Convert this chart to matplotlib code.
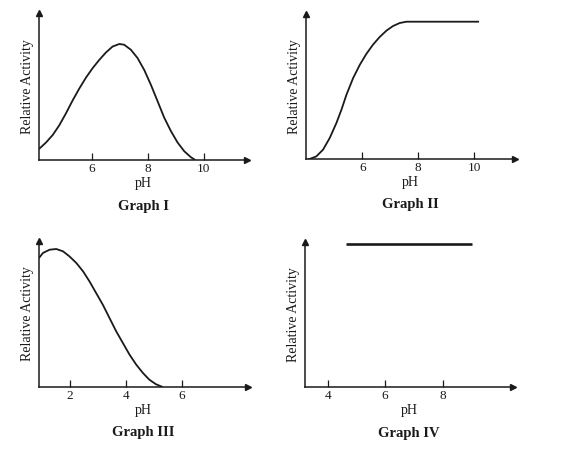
import matplotlib
matplotlib.use("Agg")
import matplotlib.pyplot as plt

plt.rcParams['font.family'] = ['Liberation Serif', 'DejaVu Serif']

W, H = 587, 463

# Graph I: activity vs pH
ph_1 = [4.11, 4.36, 4.60, 4.83, 5.07, 5.31, 5.55, 5.79, 6.03, 6.26, 6.50,
        6.74, 6.98, 7.15, 7.39, 7.63, 7.87, 8.11, 8.35, 8.58, 8.82, 9.06,
        9.30, 9.54, 9.69]
act_1 = [11, 17.5, 25, 34.5, 46.5, 59.5, 71.5, 82.5, 92, 100, 107.5,
         113.5, 116, 115.3, 110.3, 102, 90, 75, 58.5, 42.5, 29, 17.5,
         8.7, 2.7, 0]

# Graph II
ph_2 = [4.05, 4.11, 4.35, 4.59, 4.83, 5.07, 5.25, 5.43, 5.67, 5.91, 6.14,
        6.38, 6.62, 6.86, 7.10, 7.34, 7.58, 10.18]
act_2 = [0, 0, 2.6, 9.3, 21, 36, 49.3, 64.3, 81, 94.3, 105,
         114.3, 122, 128.3, 133, 136, 137.3, 137.3]

# Graph III
ph_3 = [0.88, 1.02, 1.26, 1.50, 1.74, 1.97, 2.22, 2.46, 2.69, 2.93, 3.17,
        3.41, 3.65, 3.89, 4.13, 4.37, 4.61, 4.84, 5.08, 5.32]
act_3 = [129, 134, 137.3, 138, 135.7, 130.7, 124, 115.7, 105.7, 94, 82.3,
         69, 55.7, 44, 32.3, 22.3, 14, 7.3, 2.7, 0]

# Graph IV
ph_4 = [4.65, 9.01]
act_4 = [143.3, 143.3]

graphs = [
    # (pH, activity, xlim, top, ticks, name, box in pixels l, r, bottom, top)
    (ph_1, act_1, (4.11, 11.54), 147, [6, 8, 10], "Graph I", (39, 247, 160, 13)),
    (ph_2, act_2, (3.98, 11.47), 145, [6, 8, 10], "Graph II", (306, 515, 159, 14)),
    (ph_3, act_3, (0.88, 8.38), 146, [2, 4, 6], "Graph III", (39, 248, 387, 241)),
    (ph_4, act_4, (3.22, 10.46), 145.6, [4, 6, 8], "Graph IV", (305.3, 513.3, 387.3, 241.7)),
]

fig = plt.figure(figsize=(W / 100, H / 100), dpi=100)

for ph, act, xlim, top, ticks, name, box in graphs:
    l, r, b, t = box
    ax = fig.add_axes([l / W, 1 - b / H, (r - l) / W, (b - t) / H])
    lw = 1.9 if name == "Graph IV" else 1.3
    ax.plot(ph, act, color='#1a1a1a', lw=lw, solid_capstyle='butt',
            solid_joinstyle='round')
    ax.set_xlim(*xlim)
    ax.set_ylim(0, top)
    for s in ('top', 'right'):
        ax.spines[s].set_visible(False)
    for s in ('left', 'bottom'):
        ax.spines[s].set_linewidth(1.1)
        ax.spines[s].set_color('#1a1a1a')
    ax.set_yticks([])
    ax.set_xticks(ticks)
    ax.tick_params(axis='x', direction='in', length=5, width=0.9,
                   pad=2, labelsize=9.5, colors='#1a1a1a')
    ax.plot(1, 0, '>', color='#1a1a1a', ms=4, transform=ax.transAxes, clip_on=False)
    ax.plot(0, 1, '^', color='#1a1a1a', ms=4, transform=ax.transAxes, clip_on=False)
    ax.set_xlabel('pH', fontsize=10, labelpad=1.5, color='#1a1a1a')
    ax.set_ylabel('Relative Activity', fontsize=10, labelpad=3.5, color='#1a1a1a')
    ax.text(0.5, -0.315, name, transform=ax.transAxes, ha='center', va='center',
            fontsize=10.5, fontweight='bold', color='#1a1a1a')

fig.savefig('out.png', dpi=100, facecolor='white')
